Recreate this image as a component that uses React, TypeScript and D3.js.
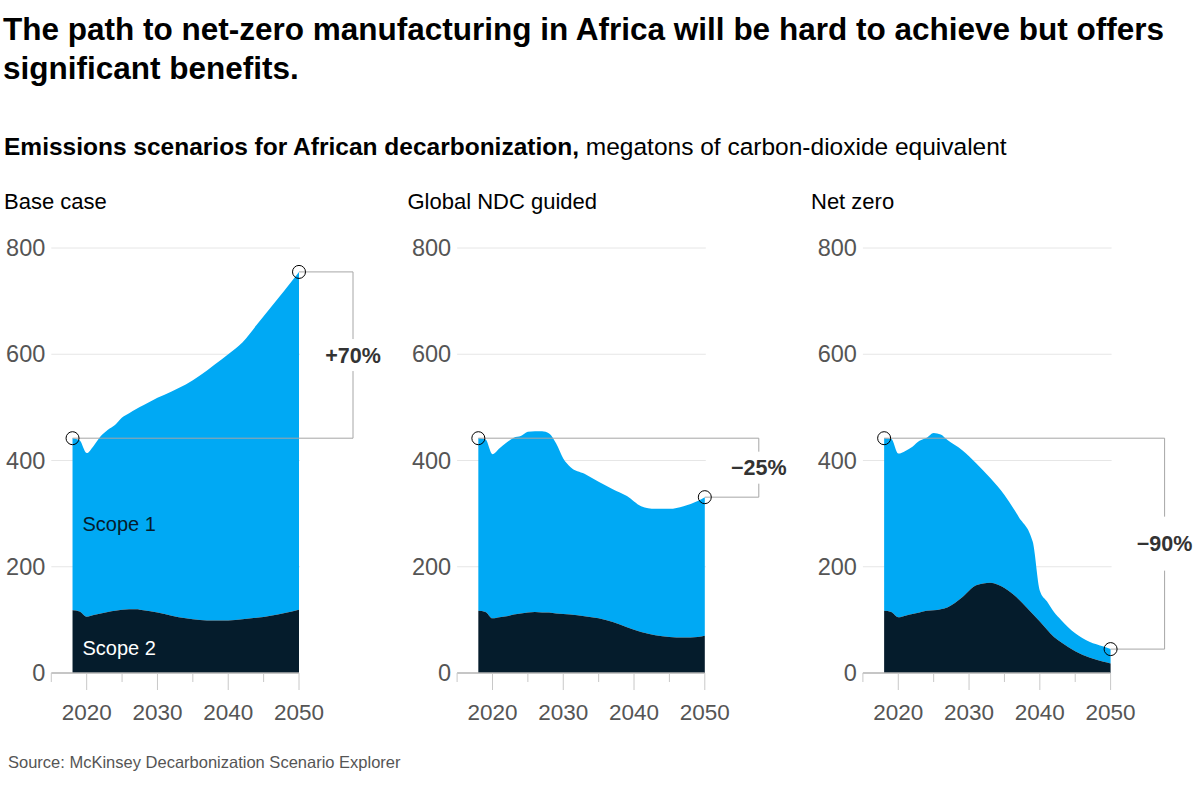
import React, { useEffect, useRef } from 'react';
import * as d3 from 'd3';

// Base case
const baseYears = [2018, 2019, 2020, 2021, 2022, 2023, 2024, 2025, 2026, 2027, 2028, 2030, 2032, 2034, 2036, 2038, 2040, 2042, 2044, 2046, 2048, 2050];
const baseTotal = [442, 438, 414, 428, 446, 458, 467, 481, 489, 497, 504, 518, 530, 543, 560, 580, 600, 622, 655, 688, 721, 755];
const baseScope2 = [118, 116, 106, 109, 112, 115, 117, 119, 120, 120, 118, 114, 108, 103, 100, 99, 99, 101, 104, 108, 113, 119];

// Global NDC guided
const ndcYears = [2018, 2019, 2020, 2021, 2022, 2023, 2024, 2025, 2026, 2027, 2028, 2029, 2030, 2031, 2033, 2035, 2037, 2039, 2041, 2043, 2045, 2047, 2049, 2050];
const ndcTotal = [442, 440, 412, 423, 434, 443, 446, 454, 455, 455, 451, 432, 404, 388, 375, 360, 346, 333, 314, 309, 309, 314, 324, 331];
const ndcScope2 = [117, 115, 103, 105, 107, 110, 112, 114, 115, 114, 114, 112, 111, 110, 107, 103, 96, 86, 77, 71, 68, 67, 68, 70];

// Net zero
const netYears = [2018, 2019, 2020, 2021, 2022, 2023, 2024, 2025, 2026, 2027, 2029, 2031, 2033, 2035, 2037, 2039, 2040, 2041, 2042, 2043, 2045, 2047, 2049, 2050];
const netTotal = [442, 441, 413, 418, 426, 437, 443, 452, 449, 438, 420, 395, 367, 335, 294, 247, 155, 135, 115, 100, 75, 59, 50, 45];
const netScope2 = [117, 115, 105, 108, 111, 114, 117, 118, 120, 124, 142, 165, 170, 160, 139, 111, 97, 82, 68, 58, 41, 29, 21, 18];

const panelTitles = ['Base case', 'Global NDC guided', 'Net zero'];
const changeLabels = ['+70%', '\u221225%', '\u221290%'];
const yTicks = [0, 200, 400, 600, 800];
const majorYears = [2020, 2030, 2040, 2050];
const minorYears = [2015, 2025, 2035, 2045];

const LIGHT = '#00A9F4';
const DARK = '#051C2C';
const FONT = '"Liberation Sans", Arial, sans-serif';

export default function App() {
  const svgRef = useRef<SVGSVGElement>(null);

  useEffect(() => {
    if (!svgRef.current) return;
    const svg = d3.select(svgRef.current);
    svg.selectAll('*').remove();
    svg.style('font-family', FONT);

    // Titles
    const title = svg.append('text').attr('font-size', 31.5).attr('font-weight', 700).attr('fill', '#000');
    title.append('tspan').attr('x', 3).attr('y', 40).text('The path to net-zero manufacturing in Africa will be hard to achieve but offers');
    title.append('tspan').attr('x', 3).attr('y', 79).text('significant benefits.');

    const sub = svg.append('text').attr('x', 4).attr('y', 155).attr('font-size', 24.5).attr('fill', '#000');
    sub.append('tspan').attr('font-weight', 700).text('Emissions scenarios for African decarbonization,');
    sub.append('tspan').text(' megatons of carbon-dioxide equivalent');

    svg.append('text')
      .attr('x', 8).attr('y', 768)
      .attr('font-size', 16.5).attr('fill', '#555')
      .text('Source: McKinsey Decarbonization Scenario Explorer');

    const y = d3.scaleLinear().domain([0, 800]).range([673, 248]);

    const panels = [
      { years: baseYears, total: baseTotal, scope2: baseScope2 },
      { years: ndcYears, total: ndcTotal, scope2: ndcScope2 },
      { years: netYears, total: netTotal, scope2: netScope2 },
    ];

    panels.forEach((p, i) => {
      const off = i * 405.8;
      const x = d3.scaleLinear().domain([2015, 2050]).range([51.3 + off, 299 + off]);
      const g = svg.append('g');

      g.append('text')
        .attr('x', 4 + i * 403.5).attr('y', 209)
        .attr('font-size', 22).attr('fill', '#000')
        .text(panelTitles[i]);

      // gridlines
      g.selectAll('line.grid')
        .data(yTicks.filter(d => d > 0))
        .join('line')
        .attr('class', 'grid')
        .attr('x1', x(2015)).attr('x2', x(2050) + 1)
        .attr('y1', d => y(d)).attr('y2', d => y(d))
        .attr('stroke', '#e6e6e6').attr('stroke-width', 1);

      g.selectAll('text.ylab')
        .data(yTicks)
        .join('text')
        .attr('class', 'ylab')
        .attr('x', x(2015) - 6).attr('y', d => y(d))
        .attr('dy', '0.35em')
        .attr('text-anchor', 'end')
        .attr('font-size', 23.5).attr('fill', '#555')
        .text(d => d);

      const rows = p.years.map((yr, k) => ({ yr, total: p.total[k], s2: p.scope2[k] }));

      const area1 = d3.area<any>()
        .x(d => x(d.yr)).y0(d => y(d.s2)).y1(d => y(d.total))
        .curve(d3.curveMonotoneX);
      const area2 = d3.area<any>()
        .x(d => x(d.yr)).y0(y(0)).y1(d => y(d.s2))
        .curve(d3.curveMonotoneX);

      g.append('path').datum(rows).attr('d', area1).attr('fill', LIGHT);
      g.append('path').datum(rows).attr('d', area2).attr('fill', DARK);

      // x axis
      g.append('line')
        .attr('x1', x(2015)).attr('x2', x(2050))
        .attr('y1', y(0)).attr('y2', y(0))
        .attr('stroke', '#b3b3b3').attr('stroke-width', 1.5);
      g.selectAll('line.maj')
        .data(majorYears)
        .join('line')
        .attr('class', 'maj')
        .attr('x1', d => x(d)).attr('x2', d => x(d))
        .attr('y1', y(0)).attr('y2', y(0) + 17)
        .attr('stroke', '#c8c8c8');
      g.selectAll('line.min')
        .data(minorYears)
        .join('line')
        .attr('class', 'min')
        .attr('x1', d => x(d)).attr('x2', d => x(d))
        .attr('y1', y(0)).attr('y2', y(0) + 9)
        .attr('stroke', '#c8c8c8');
      g.selectAll('text.xlab')
        .data(majorYears)
        .join('text')
        .attr('class', 'xlab')
        .attr('x', d => x(d)).attr('y', 720)
        .attr('text-anchor', 'middle')
        .attr('font-size', 22.5).attr('fill', '#555')
        .text(d => d);

      if (i === 0) {
        g.append('text').attr('x', x(2018) + 10).attr('y', 531)
          .attr('font-size', 20).attr('fill', DARK).text('Scope 1');
        g.append('text').attr('x', x(2018) + 10).attr('y', 655)
          .attr('font-size', 20).attr('fill', '#fff').text('Scope 2');
      }

      // change bracket
      const first = rows[0];
      const last = rows[rows.length - 1];
      const bx = x(2050) + 54;
      const yA = y(first.total);
      const yB = y(last.total);
      const top = Math.min(yA, yB);
      const bot = Math.max(yA, yB);
      const mid = (top + bot) / 2;
      const gap = i === 2 ? 27 : 16;
      const br = g.append('g').attr('stroke', '#a6a6a6').attr('stroke-width', 1).attr('fill', 'none');
      br.append('line').attr('x1', x(first.yr)).attr('x2', bx).attr('y1', yA).attr('y2', yA);
      br.append('line').attr('x1', x(last.yr)).attr('x2', bx).attr('y1', yB).attr('y2', yB);
      br.append('line').attr('x1', bx).attr('x2', bx).attr('y1', top).attr('y2', mid - gap);
      br.append('line').attr('x1', bx).attr('x2', bx).attr('y1', mid + gap).attr('y2', bot);

      g.append('text')
        .attr('x', bx).attr('y', mid).attr('dy', '0.35em')
        .attr('text-anchor', 'middle')
        .attr('font-size', 21.5).attr('font-weight', 700).attr('fill', '#333')
        .text(changeLabels[i]);

      g.selectAll('circle.end')
        .data([first, last])
        .join('circle')
        .attr('class', 'end')
        .attr('cx', d => x(d.yr)).attr('cy', d => y(d.total))
        .attr('r', 6.5)
        .attr('fill', 'none').attr('stroke', '#000').attr('stroke-width', 1);
    });
  }, []);

  return (
    <svg ref={svgRef} width={1200} height={796}
      style={{ position: 'absolute', left: 0, top: 0, background: '#fff' }} />
  );
}
